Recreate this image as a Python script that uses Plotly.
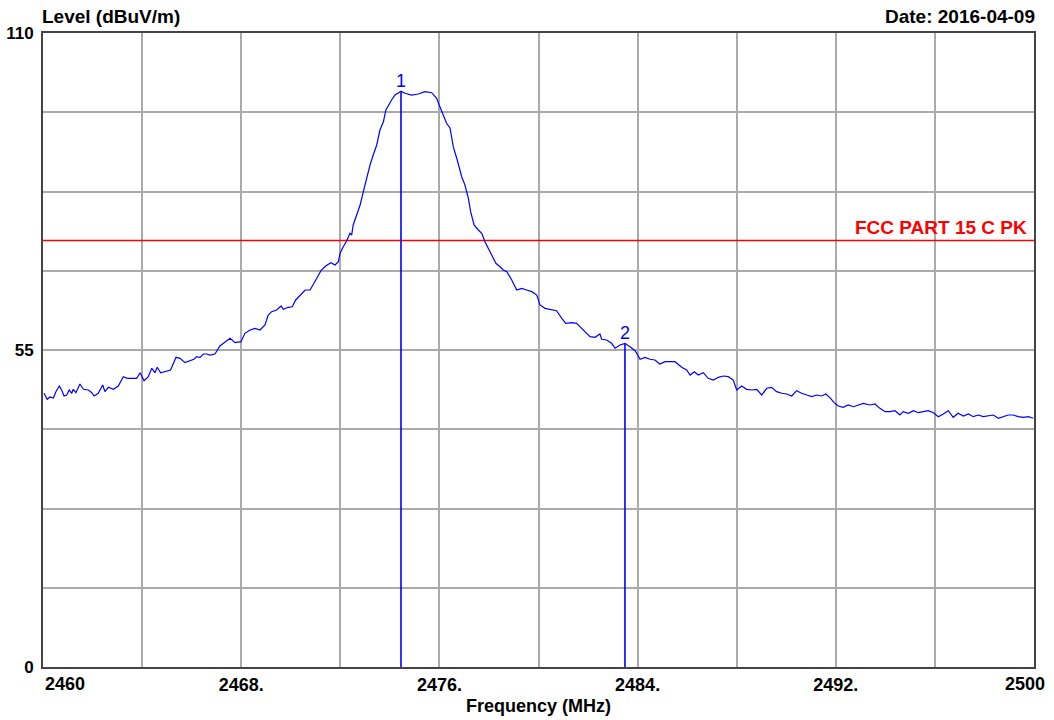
import plotly.graph_objects as go

# ---- data ----
freq_mhz = [
    2460.04, 2460.17, 2460.28, 2460.42, 2460.52, 2460.66, 2460.75, 2460.85, 2460.96, 2461.06,
    2461.16, 2461.22, 2461.33, 2461.49, 2461.63, 2461.83, 2461.97, 2462.06, 2462.23, 2462.41,
    2462.50, 2462.64, 2462.84, 2463.04, 2463.24, 2463.40, 2463.58, 2463.78, 2463.92, 2464.08,
    2464.25, 2464.39, 2464.52, 2464.61, 2464.75, 2464.99, 2465.15, 2465.37, 2465.53, 2465.73,
    2465.86, 2466.09, 2466.20, 2466.34, 2466.47, 2466.61, 2466.74, 2466.94, 2467.14, 2467.35,
    2467.55, 2467.75, 2467.99, 2468.15, 2468.36, 2468.56, 2468.76, 2468.96, 2469.09, 2469.23,
    2469.43, 2469.61, 2469.70, 2469.90, 2470.06, 2470.20, 2470.37, 2470.58, 2470.78, 2470.91,
    2471.05, 2471.22, 2471.41, 2471.62, 2471.79, 2471.92, 2471.99, 2472.12, 2472.26, 2472.39,
    2472.46, 2472.52, 2472.59, 2472.80, 2472.93, 2473.07, 2473.20, 2473.33, 2473.47, 2473.60,
    2473.74, 2473.84, 2473.94, 2474.07, 2474.21, 2474.41, 2474.45, 2474.61, 2474.88, 2475.15,
    2475.42, 2475.69, 2475.89, 2476.02, 2476.16, 2476.29, 2476.43, 2476.56, 2476.72, 2476.90,
    2477.03, 2477.17, 2477.26, 2477.40, 2477.57, 2477.71, 2477.84, 2477.97, 2478.11, 2478.28,
    2478.45, 2478.58, 2478.72, 2478.92, 2479.12, 2479.32, 2479.52, 2479.73, 2479.93, 2480.06,
    2480.26, 2480.53, 2480.73, 2480.94, 2481.10, 2481.34, 2481.54, 2481.74, 2481.95, 2482.08,
    2482.28, 2482.48, 2482.55, 2482.75, 2482.95, 2483.09, 2483.29, 2483.49, 2483.69, 2483.90,
    2484.10, 2484.30, 2484.50, 2484.70, 2484.90, 2485.11, 2485.31, 2485.51, 2485.78, 2485.98,
    2486.12, 2486.29, 2486.45, 2486.65, 2486.85, 2487.06, 2487.26, 2487.46, 2487.66, 2487.86,
    2488.00, 2488.20, 2488.40, 2488.61, 2488.81, 2489.01, 2489.21, 2489.41, 2489.61, 2489.82,
    2490.02, 2490.22, 2490.42, 2490.62, 2490.83, 2491.03, 2491.23, 2491.43, 2491.60, 2491.79,
    2491.93, 2492.10, 2492.30, 2492.50, 2492.71, 2492.91, 2493.11, 2493.38, 2493.58, 2493.78,
    2493.99, 2494.19, 2494.39, 2494.59, 2494.72, 2494.93, 2495.13, 2495.33, 2495.53, 2495.73,
    2495.94, 2496.14, 2496.34, 2496.54, 2496.74, 2496.94, 2497.15, 2497.35, 2497.55, 2497.75,
    2497.95, 2498.16, 2498.36, 2498.56, 2498.76, 2498.96, 2499.16, 2499.37, 2499.57, 2499.77,
    2499.97,
]
level_dbuv = [
    47.49, 46.45, 46.85, 46.67, 47.77, 48.75, 48.06, 47.02, 47.19, 48.06,
    47.49, 48.18, 47.59, 49.10, 48.18, 48.06, 47.59, 47.02, 47.49, 48.93,
    47.77, 48.53, 48.18, 48.75, 50.37, 50.09, 50.09, 50.09, 51.06, 49.67,
    50.37, 51.82, 51.06, 52.00, 51.06, 51.41, 51.53, 53.73, 53.56, 52.80,
    52.97, 53.39, 53.84, 53.73, 54.31, 54.31, 54.13, 54.31, 55.69, 56.44,
    57.03, 56.27, 56.44, 57.90, 58.47, 58.76, 58.47, 59.34, 61.07, 61.65,
    61.94, 62.63, 62.06, 62.41, 62.51, 63.68, 64.54, 65.41, 65.41, 66.28,
    67.44, 68.76, 69.57, 70.15, 69.75, 70.32, 71.78, 72.92, 73.96, 75.25,
    74.95, 76.69, 77.56, 80.16, 82.47, 85.07, 87.10, 88.83, 90.57, 93.17,
    94.61, 96.64, 97.51, 98.38, 99.24, 99.82, 99.90, 99.54, 99.24, 99.42,
    99.82, 99.64, 98.67, 97.21, 95.77, 94.33, 93.47, 90.27, 87.96, 85.07,
    83.63, 81.32, 79.00, 76.69, 75.82, 75.25, 73.79, 72.65, 71.48, 70.04,
    69.45, 68.88, 68.58, 67.14, 65.41, 65.70, 65.41, 65.12, 64.54, 62.81,
    62.23, 62.06, 61.82, 60.50, 59.63, 59.74, 59.63, 58.76, 57.90, 57.31,
    57.20, 57.78, 56.86, 56.74, 56.16, 55.30, 55.87, 56.16, 55.57, 54.88,
    53.39, 53.73, 53.39, 53.26, 52.57, 52.97, 52.97, 52.97, 52.00, 51.53,
    50.66, 51.24, 50.66, 51.06, 50.09, 49.79, 50.26, 50.49, 50.37, 49.79,
    48.06, 48.75, 48.18, 48.06, 48.18, 47.19, 48.36, 48.53, 47.77, 47.49,
    47.37, 47.02, 47.94, 47.49, 47.19, 46.90, 47.19, 47.02, 47.37, 46.62,
    45.86, 45.28, 45.06, 45.46, 45.16, 45.46, 45.75, 45.46, 45.63, 44.88,
    44.30, 44.30, 44.47, 43.72, 44.30, 44.02, 44.47, 44.12, 44.30, 44.47,
    44.12, 43.43, 43.90, 44.47, 43.32, 44.02, 43.55, 43.90, 43.43, 43.72,
    43.43, 43.55, 43.72, 43.15, 43.43, 43.72, 43.72, 43.43, 43.32, 43.43,
    43.15,
]

marker_labels = ["1", "2"]
marker_freq = [2474.45, 2483.49]
marker_level = [99.90, 56.16]

limit_label = "FCC PART 15 C PK"
limit_level = 74.0

x_ticks = [2460, 2464, 2468, 2472, 2476, 2480, 2484, 2488, 2492, 2496, 2500]
x_ticktext = ["", "", "<b>2468.</b>", "", "<b>2476.</b>", "", "<b>2484.</b>", "",
              "<b>2492.</b>", "", ""]
x_end_labels = ["2460", "2500"]
y_ticks = [0, 13.75, 27.5, 41.25, 55, 68.75, 82.5, 96.25, 110]
y_ticktext = ["<b>0</b>", "", "", "", "<b>55</b>", "", "", "", "<b>110</b>"]

FONT = "Liberation Sans, Arial, sans-serif"

fig = go.Figure()

# limit line
fig.add_trace(go.Scatter(
    x=[x_ticks[0], x_ticks[-1]], y=[limit_level, limit_level], mode="lines",
    line=dict(color="#ff0000", width=1.5), hoverinfo="skip", showlegend=False))

# spectrum trace
fig.add_trace(go.Scatter(
    x=freq_mhz, y=level_dbuv, mode="lines",
    line=dict(color="#0000ff", width=1.2), showlegend=False))

# marker lines
for f, lv in zip(marker_freq, marker_level):
    fig.add_trace(go.Scatter(
        x=[f, f], y=[0, lv], mode="lines",
        line=dict(color="#0000ff", width=1.6), hoverinfo="skip", showlegend=False))

annotations = []
for lab, f, lv in zip(marker_labels, marker_freq, marker_level):
    annotations.append(dict(x=f, y=lv, xref="x", yref="y", text=lab, showarrow=False,
                            yanchor="bottom", yshift=-2,
                            font=dict(family=FONT, size=18, color="#0000ff")))

annotations.append(dict(x=1.0, y=limit_level, xref="paper", yref="y", text="<b>%s</b>" % limit_label,
                        showarrow=False, xanchor="right", yanchor="bottom", xshift=-5, yshift=0,
                        font=dict(family=FONT, size=19, color="#ff0000")))

annotations.append(dict(x=x_ticks[0], y=0, xref="x", yref="paper", text="<b>%s</b>" % x_end_labels[0],
                        showarrow=False, xanchor="left", yanchor="top", yshift=-5, xshift=0,
                        font=dict(family=FONT, size=18, color="#000000")))
annotations.append(dict(x=x_ticks[-1], y=0, xref="x", yref="paper", text="<b>%s</b>" % x_end_labels[1],
                        showarrow=False, xanchor="right", yanchor="top", yshift=-5, xshift=13,
                        font=dict(family=FONT, size=18, color="#000000")))

annotations.append(dict(x=0, y=1, xref="paper", yref="paper", text="<b>Level (dBuV/m)</b>",
                        showarrow=False, xanchor="left", yanchor="bottom", yshift=4, xshift=-3,
                        font=dict(family=FONT, size=19, color="#000000")))
annotations.append(dict(x=1, y=1, xref="paper", yref="paper", text="<b>Date: 2016-04-09</b>",
                        showarrow=False, xanchor="right", yanchor="bottom", yshift=4, xshift=3,
                        font=dict(family=FONT, size=19, color="#000000")))

fig.update_layout(
    width=1054, height=720,
    margin=dict(l=43, r=20, t=33, b=53, autoexpand=False),
    paper_bgcolor="#ffffff", plot_bgcolor="#ffffff",
    showlegend=False,
    annotations=annotations,
    xaxis=dict(range=[2460, 2500], tickmode="array", tickvals=x_ticks, ticktext=x_ticktext,
               showgrid=True, gridcolor="#aaaaaa", gridwidth=1.5, zeroline=False,
               showline=True, linecolor="#444444", linewidth=2, mirror=True,
               ticks="", ticklabelstandoff=0, automargin=False,
               tickfont=dict(family=FONT, size=18, color="#000000"),
               title=dict(text="<b>Frequency (MHz)</b>", standoff=6,
                          font=dict(family=FONT, size=18, color="#000000"))),
    yaxis=dict(range=[0, 110], tickmode="array", tickvals=y_ticks, ticktext=y_ticktext,
               showgrid=True, gridcolor="#aaaaaa", gridwidth=1.5, zeroline=False,
               showline=True, linecolor="#444444", linewidth=2, mirror=True,
               ticks="", ticklabelstandoff=4, automargin=False,
               tickfont=dict(family=FONT, size=17, color="#000000")),
)

fig.write_html("out.html", config={"displayModeBar": False},
               post_script="document.body.style.margin='0';")
